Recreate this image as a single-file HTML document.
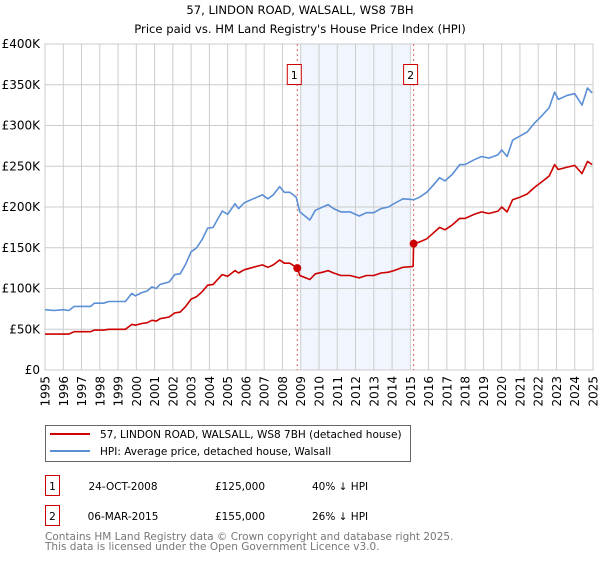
<!DOCTYPE html>
<html><head><meta charset="utf-8"><style>
body{margin:0;background:#fff;font-family:"DejaVu Sans","Liberation Sans",sans-serif;}
svg text{font-family:"DejaVu Sans","Liberation Sans",sans-serif;}
</style></head><body>
<svg id="c" width="600" height="560" xmlns="http://www.w3.org/2000/svg">
<text x="300" y="14" text-anchor="middle" font-size="11.6">57, LINDON ROAD, WALSALL, WS8 7BH</text>
<text x="300" y="33" text-anchor="middle" font-size="11.6">Price paid vs. HM Land Registry's House Price Index (HPI)</text>
<g id="grid"></g><g id="lines"></g><g id="axes"></g>
<g>
<rect x="45.5" y="425.5" width="365" height="36" fill="#fff" stroke="#666"/>
<line x1="50" y1="434" x2="90" y2="434" stroke="#cc0000" stroke-width="2"/>
<text x="100" y="438" font-size="10.5">57, LINDON ROAD, WALSALL, WS8 7BH (detached house)</text>
<line x1="50" y1="451" x2="90" y2="451" stroke="#5b8fd6" stroke-width="2"/>
<text x="100" y="455" font-size="10.5">HPI: Average price, detached house, Walsall</text>
</g>
<g font-size="10.5">
<rect x="45.5" y="475.5" width="14" height="20" fill="#fff" stroke="#cc0000"/>
<text x="52.5" y="490" text-anchor="middle">1</text>
<text x="123" y="490" text-anchor="middle">24-OCT-2008</text>
<text x="240" y="490" text-anchor="middle">£125,000</text>
<text x="312" y="490">40% ↓ HPI</text>
<rect x="45.5" y="505.5" width="14" height="20" fill="#fff" stroke="#cc0000"/>
<text x="52.5" y="520" text-anchor="middle">2</text>
<text x="123" y="520" text-anchor="middle">06-MAR-2015</text>
<text x="240" y="520" text-anchor="middle">£155,000</text>
<text x="312" y="520">26% ↓ HPI</text>
</g>
<text x="45" y="540" font-size="10.5" fill="#777">Contains HM Land Registry data © Crown copyright and database right 2025.</text>
<text x="45" y="550" font-size="10.5" fill="#777">This data is licensed under the Open Government Licence v3.0.</text>
</svg>
<script>
const hpiYears=[1995,1995.5,1996,1996.3,1996.6,1997,1997.5,1997.7,1998.2,1998.5,1999,1999.4,1999.75,1999.95,2000.3,2000.6,2000.85,2001.1,2001.3,2001.8,2002.1,2002.4,2002.7,2003.0,2003.3,2003.6,2003.9,2004.2,2004.7,2005.0,2005.4,2005.6,2005.9,2006.4,2006.9,2007.2,2007.5,2007.85,2008.1,2008.4,2008.75,2008.95,2009.5,2009.8,2010.2,2010.5,2010.8,2011.2,2011.7,2012.2,2012.6,2013.0,2013.4,2013.8,2014.1,2014.6,2015.2,2015.5,2015.9,2016.3,2016.6,2016.9,2017.3,2017.7,2018.0,2018.5,2018.9,2019.3,2019.8,2020.0,2020.3,2020.6,2021.0,2021.4,2021.8,2022.2,2022.6,2022.9,2023.1,2023.6,2024.0,2024.4,2024.7,2024.95];
const hpiValues=[74,73,74,73,78,78,78,82,82,84,84,84,94,91,95,97,102,100,105,108,117,118,130,145,150,160,174,175,195,191,204,198,205,210,215,210,215,225,218,218,212,194,184,196,200,203,198,194,194,189,193,193,198,200,204,210,209,212,218,228,236,232,240,252,252,258,262,260,264,270,262,282,287,292,303,312,322,341,332,337,339,325,346,340];
const priceYears=[1995,1995.5,1996,1996.3,1996.6,1997,1997.5,1997.7,1998.2,1998.5,1999,1999.4,1999.75,1999.95,2000.3,2000.6,2000.85,2001.1,2001.3,2001.8,2002.1,2002.4,2002.7,2003.0,2003.3,2003.6,2003.9,2004.2,2004.7,2005.0,2005.4,2005.6,2005.9,2006.4,2006.9,2007.2,2007.5,2007.85,2008.1,2008.4,2008.81,2008.95,2009.5,2009.8,2010.2,2010.5,2010.8,2011.2,2011.7,2012.2,2012.6,2013.0,2013.4,2013.8,2014.1,2014.6,2015.15,2015.18,2015.5,2015.9,2016.3,2016.6,2016.9,2017.3,2017.7,2018.0,2018.5,2018.9,2019.3,2019.8,2020.0,2020.3,2020.6,2021.0,2021.4,2021.8,2022.2,2022.6,2022.9,2023.1,2023.6,2024.0,2024.4,2024.7,2024.95];
const priceValues=[44,44,44,44,47,47,47,49,49,50,50,50,56,55,57,58,61,60,63,65,70,71,78,87,90,96,104,105,117,115,122,119,123,126,129,126,129,135,131,131,125,116,111,118,120,122,119,116,116,113,116,116,119,120,122,126,127,155,157,161,169,175,172,178,186,186,191,194,192,195,200,194,209,212,216,224,231,238,252,246,249,251,241,256,252];
const saleYears=[2008.81,2015.18];
const saleValues=[125,155];
const saleLabels=["1","2"];
const yTicks=[0,50,100,150,200,250,300,350,400];
const yTickLabels=["£0","£50K","£100K","£150K","£200K","£250K","£300K","£350K","£400K"];
const xTicks=[1995,1996,1997,1998,1999,2000,2001,2002,2003,2004,2005,2006,2007,2008,2009,2010,2011,2012,2013,2014,2015,2016,2017,2018,2019,2020,2021,2022,2023,2024,2025];

const X0=45,X1=593,Y0=370,Y1=44;
const xs=y=>X0+(y-1995)/(2025-1995)*(X1-X0);
const ys=v=>Y0-v/400*(Y0-Y1);
const NS="http://www.w3.org/2000/svg";
function mk(tag,parent,attrs){const e=document.createElementNS(NS,tag);for(const k in attrs)e.setAttribute(k,attrs[k]);parent.appendChild(e);return e;}
const grid=document.getElementById('grid'),lines=document.getElementById('lines'),axes=document.getElementById('axes');
const shade=mk('rect',grid,{x:xs(2009.0),y:Y1,width:xs(2015.0)-xs(2009.0),height:Y0-Y1,fill:'#eef3fc',opacity:0.8});


yTicks.forEach((t,i)=>{
  mk('line',grid,{x1:X0,x2:X1,y1:ys(t),y2:ys(t),stroke:'#cccccc','stroke-width':1});
  const tx=mk('text',axes,{x:40,y:ys(t)+4,'text-anchor':'end','font-size':12});
  tx.textContent=yTickLabels[i];
  
  
});
xTicks.forEach(t=>{
  mk('line',grid,{x1:xs(t),x2:xs(t),y1:Y1,y2:Y0,stroke:'#cccccc','stroke-width':1});
  const tx=mk('text',axes,{x:0,y:0,'text-anchor':'end','font-size':12,transform:`translate(${xs(t)+4.5},376) rotate(-90)`});
  tx.textContent=t;
  
  
});
mk('rect',grid,{x:X0,y:Y1,width:X1-X0,height:Y0-Y1,fill:'none',stroke:'#cccccc'});
saleYears.forEach((y,i)=>{
  const l=mk('line',grid,{x1:xs(y),x2:xs(y),y1:Y1,y2:Y0,stroke:'#e06060','stroke-width':1,'stroke-dasharray':'2,3'});
  
  
});
function path(xv,yv,color,name){
  const d=xv.map((x,i)=>(i?'L':'M')+xs(x).toFixed(1)+','+ys(yv[i]).toFixed(1)).join('');
  const p=mk('path',lines,{d:d,fill:'none',stroke:color,'stroke-width':1.6,'stroke-linejoin':'round'});
  
  
}
path(hpiYears,hpiValues,'#5b8fd6','hpi-line');
path(priceYears,priceValues,'#cc0000','price-paid-line');
saleYears.forEach((y,i)=>{
  const c=mk('circle',lines,{cx:xs(y),cy:ys(saleValues[i]),r:4,fill:'#cc0000'});
  
  
  const bx=xs(y)-10.5;
  const r=mk('rect',lines,{x:bx+0.5,y:64.5,width:14,height:20,fill:'#fff',stroke:'#cc0000'});
  
  
  const t=mk('text',lines,{x:bx+7.5,y:79,'text-anchor':'middle','font-size':11});
  t.textContent=saleLabels[i];
  
  
});
</script>
</body></html>
